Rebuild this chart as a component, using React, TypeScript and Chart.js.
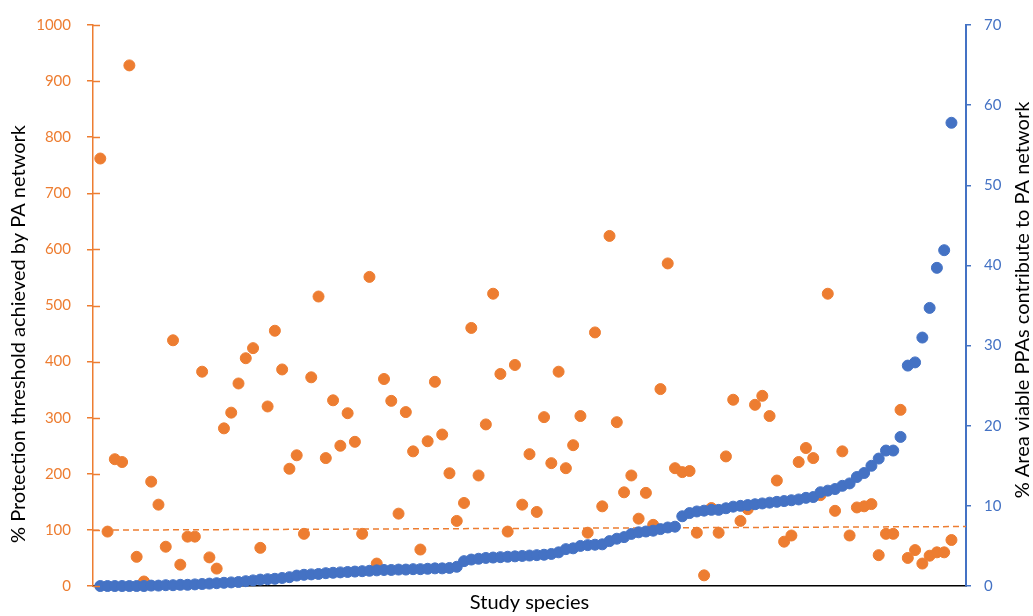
import { useEffect, useRef } from 'react';
import { Chart, registerables } from 'chart.js';

Chart.register(...registerables);

const ORANGE = '#ED7D31';
const BLUE = '#4472C4';
const FONT = "Lato, 'Open Sans', sans-serif";

// % of the protection threshold achieved by the PA network, one value per species
const thresholdAchieved = [
  762, 97, 226, 221, 928, 52, 8, 186, 145, 70,
  438, 38, 88, 88, 382, 51, 31, 281, 309, 361,
  406, 424, 68, 320, 455, 386, 209, 233, 93, 372,
  516, 228, 331, 250, 308, 257, 93, 551, 40, 369,
  330, 129, 310, 240, 65, 258, 364, 270, 201, 116,
  148, 460, 197, 288, 521, 378, 97, 394, 145, 235,
  132, 301, 219, 382, 210, 251, 303, 95, 452, 142,
  624, 292, 167, 197, 120, 166, 109, 351, 575, 210,
  203, 205, 95, 19, 139, 95, 231, 332, 116, 137,
  323, 339, 303, 188, 79, 90, 221, 246, 228, 162,
  521, 134, 240, 90, 140, 142, 146, 55, 93, 93,
  314, 50, 64, 40, 54, 60, 60, 82,
];

// % of area in viable PPAs that contributes to the PA network (sorted ascending)
const viableAreaShare = [
  0, 0, 0, 0, 0, 0, 0, 0.05, 0.05, 0.1,
  0.1, 0.15, 0.15, 0.2, 0.25, 0.3, 0.35, 0.4, 0.45, 0.5,
  0.6, 0.7, 0.8, 0.85, 0.9, 1.0, 1.1, 1.3, 1.4, 1.45,
  1.5, 1.6, 1.65, 1.7, 1.75, 1.8, 1.85, 1.9, 1.95, 2.0,
  2.0, 2.05, 2.05, 2.1, 2.1, 2.15, 2.2, 2.2, 2.25, 2.4,
  3.1, 3.3, 3.4, 3.5, 3.55, 3.6, 3.65, 3.7, 3.75, 3.8,
  3.85, 3.9, 4.0, 4.2, 4.6, 4.7, 5.0, 5.1, 5.15, 5.2,
  5.6, 5.9, 6.1, 6.5, 6.7, 6.8, 6.9, 7.1, 7.3, 7.4,
  8.7, 9.1, 9.3, 9.4, 9.5, 9.5, 9.7, 9.9, 10.0, 10.1,
  10.2, 10.3, 10.4, 10.5, 10.6, 10.7, 10.8, 11.0, 11.1, 11.7,
  11.9, 12.1, 12.5, 12.8, 13.6, 14.1, 15.0, 15.9, 16.9, 16.9,
  18.6, 27.5, 27.9, 31.0, 34.7, 39.7, 41.9, 57.8,
];

// 100 % threshold reference line (dashed)
const thresholdLineX = [0, 120];
const thresholdLineY = [99.5, 106];

const X_RANGE = [0, 120];
const LEFT_RANGE = [0, 1000, 100];
const RIGHT_RANGE = [0, 70, 10];

const LEFT_TITLE = '% Protection threshold achieved by PA network';
const RIGHT_TITLE = '% Area viable PPAs contribute to PA network';
const X_TITLE = 'Study species';

const axisDecor = {
  id: 'axisDecor',
  afterDraw(chart: any) {
    const { ctx, chartArea } = chart;
    const yL = chart.scales.yLeft;
    ctx.save();
    // inner half of the cross tick marks on the left axis
    ctx.strokeStyle = ORANGE;
    ctx.lineWidth = 1.5;
    yL.ticks.forEach((t: any) => {
      const py = Math.round(yL.getPixelForValue(t.value)) + 0.5;
      ctx.beginPath();
      ctx.moveTo(chartArea.left, py);
      ctx.lineTo(chartArea.left + 7, py);
      ctx.stroke();
    });
    // axis titles
    ctx.font = `20px ${FONT}`;
    ctx.textAlign = 'center';
    ctx.textBaseline = 'middle';
    ctx.fillStyle = '#000000';
    ctx.save();
    ctx.translate(19, 334);
    ctx.rotate(-Math.PI / 2);
    ctx.fillText(LEFT_TITLE, 0, 0);
    ctx.restore();
    ctx.save();
    ctx.translate(1023, 300);
    ctx.rotate(-Math.PI / 2);
    ctx.fillText(RIGHT_TITLE, 0, 0);
    ctx.restore();
    ctx.fillText(X_TITLE, (chartArea.left + chartArea.right) / 2, 603);
    ctx.restore();
  },
};

export default function App() {
  const canvasRef = useRef<HTMLCanvasElement | null>(null);

  useEffect(() => {
    if (!canvasRef.current) return;
    const orangePts = thresholdAchieved.map((v, i) => ({ x: i + 1, y: v }));
    const bluePts = viableAreaShare.map((v, i) => ({ x: i + 1, y: v }));
    const linePts = thresholdLineX.map((x, i) => ({ x, y: thresholdLineY[i] }));

    const chart = new Chart(canvasRef.current, {
      type: 'scatter',
      data: {
        datasets: [
          {
            type: 'scatter',
            label: 'Area viable PPAs',
            data: bluePts,
            yAxisID: 'yRight',
            backgroundColor: BLUE,
            borderColor: BLUE,
            borderWidth: 1,
            pointRadius: 5.5,
            clip: false,
            order: 0,
          },
          {
            type: 'scatter',
            label: 'Protection threshold achieved',
            data: orangePts,
            yAxisID: 'yLeft',
            backgroundColor: ORANGE,
            borderColor: ORANGE,
            borderWidth: 1,
            pointRadius: 5.5,
            clip: false,
            order: 1,
          },
          {
            type: 'line',
            label: '100% threshold',
            data: linePts,
            yAxisID: 'yLeft',
            borderColor: ORANGE,
            borderWidth: 1.5,
            borderDash: [6, 4],
            pointRadius: 0,
            fill: false,
            order: 2,
          },
        ],
      },
      options: {
        animation: false,
        responsive: true,
        maintainAspectRatio: false,
        layout: { padding: { top: 14, left: 0, right: 0, bottom: 0 } },
        plugins: { legend: { display: false }, tooltip: { enabled: false } },
        scales: {
          x: {
            type: 'linear',
            min: X_RANGE[0],
            max: X_RANGE[1],
            ticks: { display: false },
            grid: { display: false, drawTicks: false },
            border: { display: true, color: '#000000', width: 1.5 },
            afterFit: (s: any) => { s.height = 30; },
          },
          yLeft: {
            type: 'linear',
            position: 'left',
            min: LEFT_RANGE[0],
            max: LEFT_RANGE[1],
            ticks: {
              stepSize: LEFT_RANGE[2],
              color: ORANGE,
              padding: 16,
              font: { family: FONT, size: 15 },
              callback: (v: any) => String(v),
            },
            grid: { drawOnChartArea: false, drawTicks: true, tickLength: 6, color: ORANGE, lineWidth: 1.5 },
            border: { display: true, color: ORANGE, width: 1.5 },
            afterFit: (s: any) => { s.width = 93; },
          },
          yRight: {
            type: 'linear',
            position: 'right',
            min: RIGHT_RANGE[0],
            max: RIGHT_RANGE[1],
            ticks: {
              stepSize: RIGHT_RANGE[2],
              color: BLUE,
              padding: 13,
              font: { family: FONT, size: 15 },
              callback: (v: any) => String(v),
            },
            grid: { drawOnChartArea: false, drawTicks: true, tickLength: 5, color: BLUE, lineWidth: 1.5 },
            border: { display: true, color: BLUE, width: 2 },
            afterFit: (s: any) => { s.width = 67; },
          },
        },
      },
      plugins: [axisDecor],
    });
    return () => chart.destroy();
  }, []);

  return (
    <div style={{ position: 'fixed', left: 0, top: 0, width: 1033, height: 616, background: '#ffffff' }}>
      <canvas ref={canvasRef} />
    </div>
  );
}
